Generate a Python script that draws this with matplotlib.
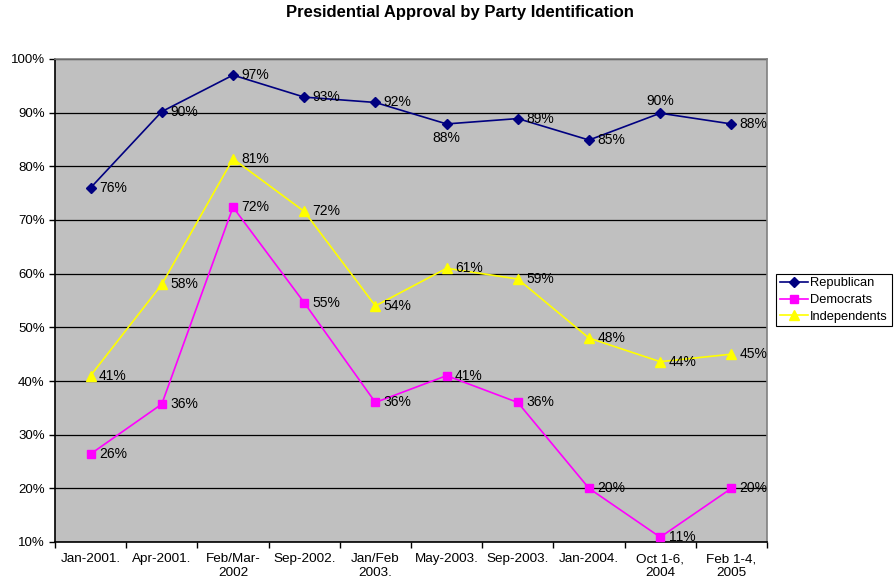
import matplotlib
matplotlib.use("Agg")
import matplotlib.pyplot as plt
import numpy as np
from matplotlib.ticker import FixedLocator, PercentFormatter

plt.rcParams['font.family'] = ['Liberation Sans', 'DejaVu Sans']

categories = ["Jan-2001.", "Apr-2001.", "Feb/Mar-\n2002", "Sep-2002.", "Jan/Feb\n2003.",
              "May-2003.", "Sep-2003.", "Jan-2004.", "Oct 1-6,\n2004", "Feb 1-4,\n2005"]
republican = [76, 90.2, 97, 92.9, 91.9, 87.9, 88.9, 84.9, 89.9, 87.9]
democrats = [26.4, 35.7, 72.4, 54.6, 36, 41, 36, 20, 10.9, 20]
independents = [41, 58, 81.4, 71.6, 54, 61, 59, 48, 43.6, 45]

# label placement exceptions: (series, index) -> "below"/"above"
label_pos = {("Republican", 5): "below", ("Republican", 8): "above"}

series = [
    ("Republican", republican, "#000080", "D", 5),
    ("Democrats", democrats, "#FF00FF", "s", 6),
    ("Independents", independents, "#FFFF00", "^", 6.5),
]

fig = plt.figure(figsize=(8.95, 5.85), dpi=100)
ax = fig.add_axes([55 / 895, 43 / 585, 712 / 895, 483 / 585])
ax.set_facecolor("#C0C0C0")

x = np.arange(len(categories))
for name, vals, color, marker, ms in series:
    ax.plot(x, vals, color=color, marker=marker, markersize=ms, linewidth=1.2,
            label=name, zorder=3)
    for i, v in enumerate(vals):
        txt = "{:.0f}%".format(v)
        pos = label_pos.get((name, i), "right")
        if pos == "right":
            ax.annotate(txt, (i, v), xytext=(6, 0), textcoords="offset points",
                        ha="left", va="center", fontsize=10, zorder=4)
        elif pos == "below":
            ax.annotate(txt, (i, v), xytext=(0, -5), textcoords="offset points",
                        ha="center", va="top", fontsize=10, zorder=4)
        else:
            ax.annotate(txt, (i, v), xytext=(0, 4), textcoords="offset points",
                        ha="center", va="bottom", fontsize=10, zorder=4)

ax.set_xlim(-0.5, len(categories) - 0.5)
ax.set_ylim(10, 100)
ax.set_yticks(np.arange(10, 101, 10))
ax.yaxis.set_major_formatter(PercentFormatter(decimals=0))
ax.grid(axis="y", color="black", linewidth=0.9, zorder=1)
ax.set_axisbelow(True)

ax.set_xticks(x)
ax.set_xticklabels(categories, fontsize=9.7)
ax.tick_params(axis="x", which="major", length=0, pad=8)
ax.xaxis.set_minor_locator(FixedLocator(np.arange(-0.5, len(categories), 1.0)))
ax.tick_params(axis="x", which="minor", length=4, width=1, color="black")
ax.tick_params(axis="y", labelsize=9.5, length=4, width=1, color="black")

for side in ["top", "right"]:
    ax.spines[side].set_color("#808080")
    ax.spines[side].set_linewidth(1.2)
for side in ["left", "bottom"]:
    ax.spines[side].set_color("black")
    ax.spines[side].set_linewidth(1.2)

fig.suptitle("Presidential Approval by Party Identification", x=460 / 895, y=1 - 5 / 585,
             fontsize=12, fontweight="bold", va="top")

leg = ax.legend(loc="center left", bbox_to_anchor=(776 / 895, 1 - 300 / 585),
                bbox_transform=fig.transFigure, fontsize=9.3, frameon=True,
                fancybox=False, framealpha=1, edgecolor="black", borderpad=0.3,
                handlelength=2.2, labelspacing=0.35, handletextpad=0.15, borderaxespad=0)
leg.get_frame().set_linewidth(0.8)

fig.savefig("out.png", dpi=100)
